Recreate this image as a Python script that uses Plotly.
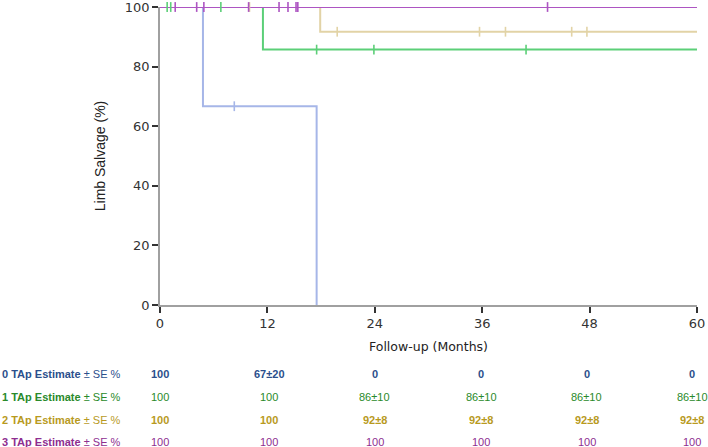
import plotly.graph_objects as go

months_ticks = [0, 12, 24, 36, 48, 60]

# Step curves (time, survival %)
t0 = [0, 4.8, 17.5]
s0 = [100, 66.7, 0]
t1 = [0, 11.5, 60]
s1 = [100, 85.7, 85.7]
t2 = [0, 17.9, 60]
s2 = [100, 91.7, 91.7]
t3 = [0, 60]
s3 = [100, 100]

# Censor marks
c0_t = [8.3]
c0_s = [66.7]
c1_t = [0.8, 1.2, 6.8, 17.5, 23.9, 40.9]
c1_s = [100, 100, 100, 85.7, 85.7, 85.7]
c2_t = [10.0, 19.8, 35.7, 38.6, 46.0, 47.7]
c2_s = [100, 91.7, 91.7, 91.7, 91.7, 91.7]
c3_t = [1.7, 4.1, 4.9, 9.9, 13.3, 14.3, 15.2, 15.4, 43.3]
c3_s = [100, 100, 100, 100, 100, 100, 100, 100, 100]

groups = ["0 TAp", "1 TAp", "2 TAp", "3 TAp"]
table = [
    ["100", "67±20", "0", "0", "0", "0"],
    ["100", "100", "86±10", "86±10", "86±10", "86±10"],
    ["100", "100", "92±8", "92±8", "92±8", "92±8"],
    ["100", "100", "100", "100", "100", "100"],
]

line_colors = ["#a6b6e8", "#5ccf78", "#e2d3a6", "#ad55c2"]
text_colors = ["#2b4f8c", "#2a8a2a", "#b89a1e", "#8e2e90"]
bold_values = [True, False, True, False]

fig = go.Figure()
curves = [(t0, s0), (t1, s1), (t2, s2), (t3, s3)]
cens = [(c0_t, c0_s), (c1_t, c1_s), (c2_t, c2_s), (c3_t, c3_s)]
for (t, s), col in zip(curves, line_colors):
    fig.add_trace(go.Scatter(x=t, y=s, mode="lines", line=dict(color=col, width=2, shape="hv"),
                             showlegend=False, hoverinfo="skip", cliponaxis=False))
for (t, s), col in zip(cens, line_colors):
    fig.add_trace(go.Scatter(x=t, y=s, mode="markers",
                             marker=dict(symbol="line-ns", size=7, line=dict(color=col, width=1.6)),
                             showlegend=False, hoverinfo="skip", cliponaxis=False))

fig.update_layout(
    width=708, height=447,
    margin=dict(l=160, r=11, t=7, b=142, autoexpand=False),
    plot_bgcolor="white", paper_bgcolor="white",
    xaxis=dict(range=[0, 60], tickvals=months_ticks, showgrid=False, zeroline=False,
               showline=True, linecolor="#a0a0a0", linewidth=1.5, automargin=False,
               ticks="outside", ticklen=6, tickcolor="#333", tickwidth=1.5,
               ticklabeloverflow="allow",
               tickfont=dict(family="DejaVu Sans", size=13, color="#333"),
               title=dict(text="Follow-up (Months)", font=dict(family="DejaVu Sans", size=12.5, color="#222"),
                          standoff=12)),
    yaxis=dict(range=[0, 100], tickvals=[0, 20, 40, 60, 80, 100], showgrid=False, zeroline=False,
               showline=True, linecolor="#a0a0a0", linewidth=1.5, automargin=False,
               ticks="outside", ticklen=6, tickcolor="#333", tickwidth=1.5,
               ticklabeloverflow="allow",
               tickfont=dict(family="DejaVu Sans", size=13, color="#333"),
               title=dict(text="Limb Salvage (%)", font=dict(family="Liberation Sans", size=14, color="#222"),
                          standoff=16)),
    font=dict(family="Liberation Sans"),
)

row_y = [374, 397, 420, 442]
col_shift = [0, 2, 0, -1, -3, -5]
for i, g in enumerate(groups):
    yy = -(row_y[i] - 305) / 298.0
    fig.add_annotation(x=0, xref="paper", xanchor="left", xshift=-160,
                       y=yy, yref="paper", yanchor="middle",
                       text=f"<b>{g} Estimate</b> ± SE %", showarrow=False,
                       font=dict(family="Liberation Sans", size=11, color=text_colors[i]))
    for j, v in enumerate(table[i]):
        txt = f"<b>{v}</b>" if bold_values[i] else v
        fig.add_annotation(x=months_ticks[j], xref="x", xanchor="center", xshift=col_shift[j],
                           y=yy, yref="paper", yanchor="middle",
                           text=txt, showarrow=False,
                           font=dict(family="Liberation Sans", size=11, color=text_colors[i]))

fig.write_html("out.html", config={"displayModeBar": False},
               post_script="document.body.style.margin='0';")
